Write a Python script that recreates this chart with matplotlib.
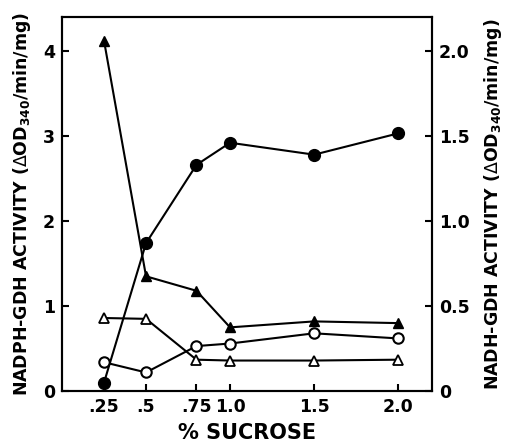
import matplotlib
matplotlib.use('Agg')
import matplotlib.pyplot as plt

# % sucrose; the .75 point sits at ~0.8 on the drawn axis
sucrose = [0.25, 0.5, 0.8, 1.0, 1.5, 2.0]
tick_labels = ['.25', '.5', '.75', '1.0', '1.5', '2.0']

# all values in left-axis units (right axis = left / 2)
filled_circles = [0.10, 1.74, 2.66, 2.92, 2.78, 3.03]
filled_triangles = [4.12, 1.35, 1.18, 0.75, 0.82, 0.80]
open_circles = [0.34, 0.22, 0.53, 0.56, 0.68, 0.62]
open_triangles = [0.86, 0.85, 0.37, 0.36, 0.36, 0.37]

left_ticks = [0, 1, 2, 3, 4]
right_ticks = [0, 0.5, 1.0, 1.5, 2.0]
right_labels = ['0', '0.5', '1.0', '1.5', '2.0']

plt.rcParams['font.family'] = ['DejaVu Sans']
plt.rcParams['mathtext.fontset'] = 'dejavusans'

fig = plt.figure(figsize=(5.08, 4.43), dpi=100)
ax = fig.add_axes([0.122, 0.117, 0.728, 0.845])

lw = 1.5
ax.plot(sucrose, filled_circles, 'k-', lw=lw, marker='o', ms=8.5,
        mfc='k', mec='k', zorder=3)
ax.plot(sucrose, filled_triangles, 'k-', lw=lw, marker='^', ms=7,
        mfc='k', mec='k', zorder=3)
ax.plot(sucrose, open_circles, 'k-', lw=lw, marker='o', ms=7.5,
        mfc='white', mec='k', mew=1.5, zorder=4)
ax.plot(sucrose, open_triangles, 'k-', lw=lw, marker='^', ms=6.5,
        mfc='white', mec='k', mew=1.3, zorder=4)

ax.set_xlim(0, 2.2)
ax.set_ylim(0, 4.4)
ax.set_xticks(sucrose)
ax.set_xticklabels(tick_labels)
ax.set_yticks(left_ticks)

for s in ax.spines.values():
    s.set_linewidth(1.5)

ax.tick_params(direction='in', length=5, width=1.5, labelsize=12.5,
               pad=5)
for lab in ax.get_xticklabels() + ax.get_yticklabels():
    lab.set_fontweight('bold')

ax.set_xlabel('% SUCROSE', fontsize=15, fontweight='bold', labelpad=5)
ax.set_ylabel(r'NADPH-GDH ACTIVITY ($\Delta$OD$_{\mathbf{340}}$/min/mg)',
              fontsize=12.5, fontweight='bold', labelpad=7)

ax2 = ax.twinx()
ax2.set_ylim(0, 2.2)
ax2.set_yticks(right_ticks)
ax2.set_yticklabels(right_labels)
ax2.tick_params(direction='in', length=5, width=1.5, labelsize=12.5, pad=5)
for lab in ax2.get_yticklabels():
    lab.set_fontweight('bold')
for s in ax2.spines.values():
    s.set_linewidth(1.5)
ax2.set_ylabel(r'NADH-GDH ACTIVITY ($\Delta$OD$_{\mathbf{340}}$/min/mg)',
               fontsize=12.5, fontweight='bold', rotation=90, labelpad=9)

fig.savefig('out.png', dpi=100)
